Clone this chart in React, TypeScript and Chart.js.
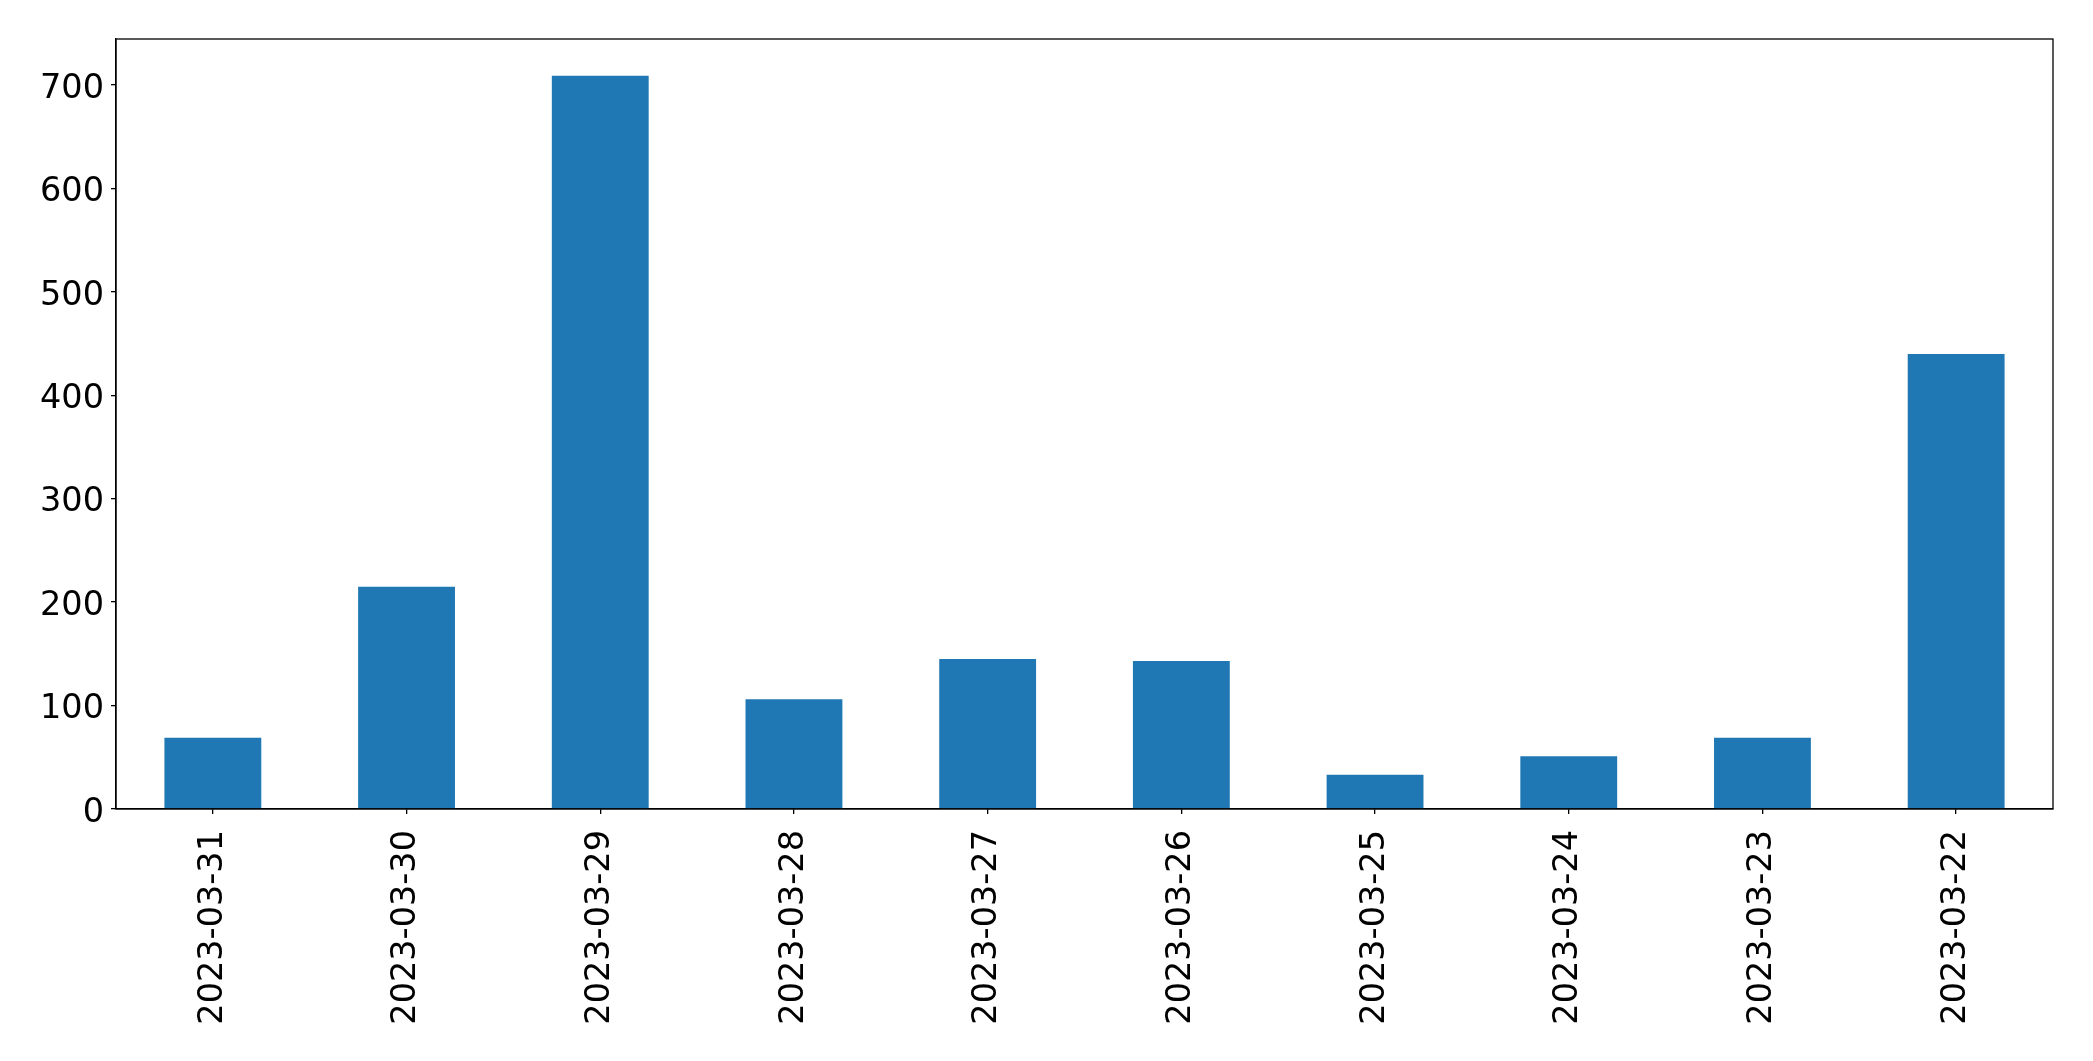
import React, { useEffect, useRef } from "react";
import { Chart, registerables } from "chart.js";

Chart.register(...registerables);

const categories = [
  "2023-03-31",
  "2023-03-30",
  "2023-03-29",
  "2023-03-28",
  "2023-03-27",
  "2023-03-26",
  "2023-03-25",
  "2023-03-24",
  "2023-03-23",
  "2023-03-22",
];
const values = [69, 215, 709, 106, 145, 143, 33, 51, 69, 440];
const yMax = 744.5;
const yStep = 100;

const W = 2093;
const H = 1061;
const PLOT_LEFT = 116;
const PLOT_RIGHT = 2053;
const PLOT_TOP = 39;
const PLOT_BOTTOM = 809;

const framePlugin = {
  id: "frame",
  afterDraw(chart: any) {
    const { ctx, chartArea } = chart;
    ctx.save();
    ctx.strokeStyle = "#000";
    ctx.lineWidth = 1.3;
    ctx.strokeRect(
      chartArea.left,
      chartArea.top,
      chartArea.right - chartArea.left,
      chartArea.bottom - chartArea.top
    );
    ctx.restore();
  },
};

export default function App() {
  const ref = useRef<HTMLCanvasElement | null>(null);

  useEffect(() => {
    document.body.style.margin = "0";
    const canvas = ref.current;
    if (!canvas) return;
    const font = { family: "'DejaVu Sans', sans-serif", size: 33.5 };
    const chart = new Chart(canvas, {
      type: "bar",
      data: {
        labels: categories,
        datasets: [
          {
            data: values,
            backgroundColor: "#1f77b4",
            borderWidth: 0,
            categoryPercentage: 1,
            barPercentage: 0.5,
          },
        ],
      },
      options: {
        animation: false,
        responsive: false,
        maintainAspectRatio: false,
        devicePixelRatio: 1,
        layout: {
          padding: { left: 0, right: W - PLOT_RIGHT, top: PLOT_TOP, bottom: 0 },
        },
        plugins: {
          legend: { display: false },
          tooltip: { enabled: false },
          title: { display: false },
        },
        scales: {
          x: {
            grid: {
              display: true,
              drawOnChartArea: false,
              drawTicks: true,
              tickLength: 5,
              color: "#000",
              lineWidth: 1.3,
              offset: false,
            },
            border: { display: true, color: "#000", width: 1.3 },
            ticks: {
              color: "#000",
              font,
              minRotation: 90,
              maxRotation: 90,
              autoSkip: false,
              padding: 16,
            },
            afterFit(scale: any) {
              scale.height = H - PLOT_BOTTOM;
            },
          },
          y: {
            min: 0,
            max: yMax,
            grid: {
              display: true,
              drawOnChartArea: false,
              drawTicks: true,
              tickLength: 5,
              color: "#000",
              lineWidth: 1.3,
            },
            border: { display: true, color: "#000", width: 1.3 },
            ticks: {
              color: "#000",
              font,
              stepSize: yStep,
              includeBounds: false,
              padding: 7,
              labelOffset: 4,
            },
            afterFit(scale: any) {
              scale.width = PLOT_LEFT;
            },
          },
        },
      },
      plugins: [framePlugin],
    });
    return () => chart.destroy();
  }, []);

  return (
    <div style={{ position: "absolute", left: 0, top: 0, width: W, height: H, background: "#fff" }}>
      <canvas ref={ref} width={W} height={H} style={{ width: W, height: H, display: "block" }} />
    </div>
  );
}
